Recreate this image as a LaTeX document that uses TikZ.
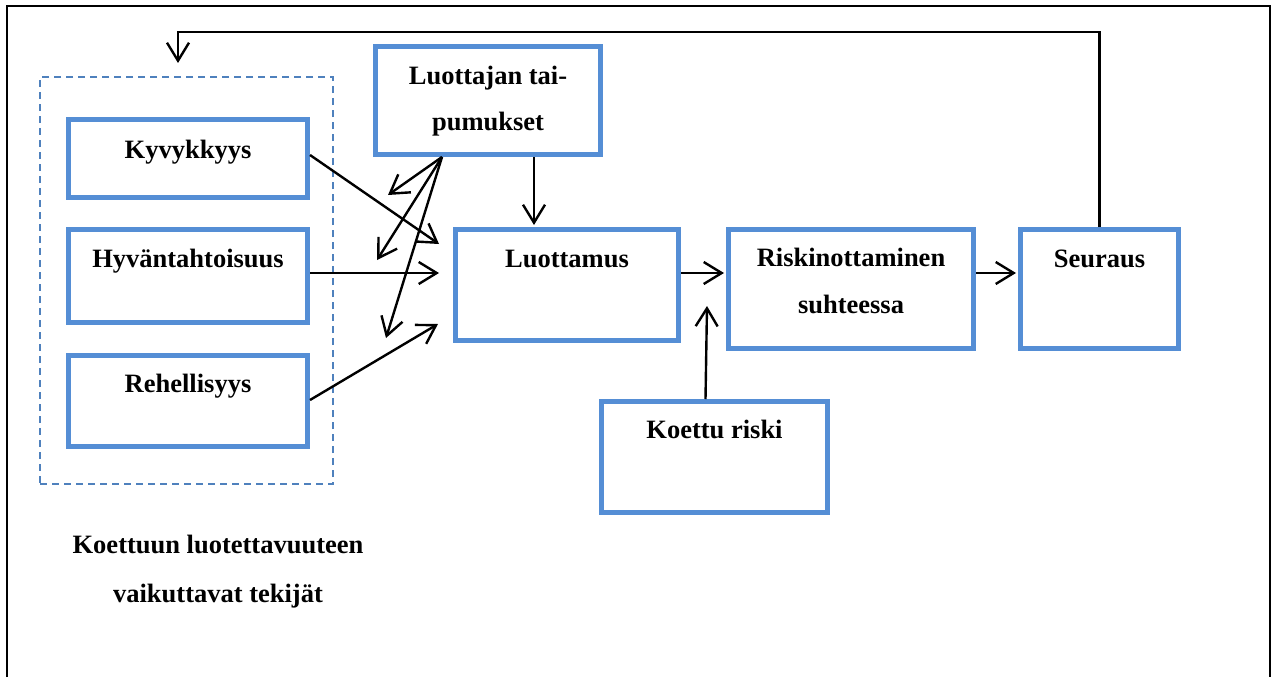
\documentclass[tikz,border=0pt]{standalone}
\usepackage{fontspec}
\setmainfont{Liberation Serif}
\usetikzlibrary{arrows.meta,calc}
\definecolor{boxblue}{RGB}{85,142,213}
\definecolor{dashblue}{RGB}{79,129,189}
\tikzset{
  bluebox/.style={draw=boxblue,line width=5pt,inner sep=0pt,rectangle},
  lbl/.style={font=\fontsize{26.5}{30}\selectfont\bfseries,anchor=base,inner sep=0pt},
  conn/.style={line width=2.4pt,-{Straight Barb[length=18pt,width=22pt,line width=2.4pt]}},
}
\begin{document}
\begin{tikzpicture}[x=1pt,y=-1pt]
\useasboundingbox (0,0) rectangle (1276,677);
% outer frame (open at bottom)
\draw[line width=1.5pt,black] (7,677) -- (7,6) -- (1270,6) -- (1270,677);
% dashed group box
\node[draw=dashblue,line width=1.5pt,dash pattern=on 7pt off 5pt,inner sep=0pt,
      minimum width=293pt,minimum height=407pt] (grp) at (186.5,280.5) {};
% boxes
\node[bluebox,minimum width=239pt,minimum height=78pt] (kyv) at (188,158.5) {};
\node[bluebox,minimum width=239pt,minimum height=93pt] (hyv) at (188,276) {};
\node[bluebox,minimum width=239pt,minimum height=91pt] (reh) at (188,401) {};
\node[bluebox,minimum width=225pt,minimum height=108pt] (tai) at (488,100.5) {};
\node[bluebox,minimum width=223pt,minimum height=111pt] (luo) at (567,285) {};
\node[bluebox,minimum width=245pt,minimum height=119pt] (ris) at (851,289) {};
\node[bluebox,minimum width=158pt,minimum height=119pt] (seu) at (1099.5,289) {};
\node[bluebox,minimum width=226pt,minimum height=111pt] (koe) at (714.5,457) {};
% texts
\node[lbl] (kyvt) at (188,158) {Kyvykkyys};
\node[lbl] (hyvt) at (188,267) {Hyväntahtoisuus};
\node[lbl] (reht) at (188,392) {Rehellisyys};
\node[lbl] (tait1) at (488,84) {Luottajan tai-};
\node[lbl] (tait2) at (488,130) {pumukset};
\node[lbl] (luot) at (567,267) {Luottamus};
\node[lbl] (rist1) at (851,266) {Riskinottaminen};
\node[lbl] (rist2) at (851,313) {suhteessa};
\node[lbl] (seut) at (1099.5,267) {Seuraus};
\node[lbl] (koet) at (714.5,438) {Koettu riski};
\node[lbl] (grpt1) at (218,553) {Koettuun luotettavuuteen};
\node[lbl] (grpt2) at (218,602) {vaikuttavat tekijät};
% free arrow ends
\coordinate (t1) at (439,244);
\coordinate (t2) at (439,273);
\coordinate (t3) at (438,324);
\coordinate (f1) at (388,195);
\coordinate (f2) at (377,260);
\coordinate (f3) at (386,338);
\coordinate (tl) at (534,225);
\coordinate (tr) at (724,273);
\coordinate (tk) at (707,306);
\coordinate (ts) at (1016,273);
\coordinate (fb1) at (1099.5,32);
\coordinate (fb2) at (178,32);
\coordinate (fb3) at (178,63);
% connectors
\draw[conn] ([yshift=3.5pt]kyv.east) -- (t1);
\draw[conn] ([yshift=3pt]hyv.east) -- (t2);
\draw[conn] ([yshift=1pt]reh.east) -- (t3);
\draw[conn] ([xshift=-46pt]tai.south) -- (f1);
\draw[conn] ([xshift=-46pt]tai.south) -- (f2);
\draw[conn] ([xshift=-46pt]tai.south) -- (f3);
\draw[conn] (tai.south -| tl) -- (tl);
\draw[conn] ([yshift=12pt]luo.east) -- (tr);
\draw[conn] ([xshift=-9pt]koe.north) -- (tk);
\draw[conn] ([yshift=16pt]ris.east) -- (ts);
\draw[conn] (seu.north) -- (fb1) -- (fb2) -- (fb3);
\end{tikzpicture}
\end{document}
